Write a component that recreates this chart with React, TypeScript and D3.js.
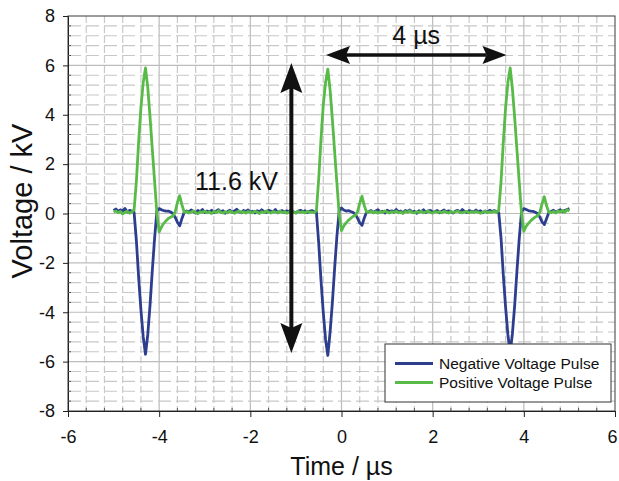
import React, { useEffect, useRef } from "react";
import * as d3 from "d3";

// oscilloscope record: first sample time and sample interval (µs)
const TIME_START = -5;
const TIME_STEP = 0.05;

// voltage samples in kV
const NEGATIVE_PULSE = [
  0.12, 0.18, 0.08, 0.15, 0.1, 0.2, 0.06, 0.13, 0.1,
  0.05, -1.1, -2.6, -3.9, -5.0, -5.7, -4.9, -3.7, -2.3, -1.0, 0.1, 0.2, 0.15, 0.12, 0.1, 0.1, 0.06, 0.0, -0.15, -0.35, -0.5, -0.2, 0.05,
  0.1, 0.05, 0.14, 0.08, 0.02, 0.12, 0.07, 0.16, 0.04, 0.1,
  0.06, 0.13, 0.03, 0.09, 0.15, 0.06, 0.11, 0.01, 0.08, 0.13,
  0.05, 0.1, 0.17, 0.07, 0.03, 0.12, 0.08, 0.14, 0.05, 0.09,
  0.02, 0.11, 0.06, 0.15, 0.08, 0.04, 0.13, 0.1, 0.07, 0.16,
  0.03, 0.09, 0.12, 0.05, 0.11, 0.08, 0.14, 0.06, 0.02, 0.1,
  0.13, 0.07, 0.11, 0.04, 0.09, 0.12, 0.06,
  0.06, -1.2, -2.7, -4.0, -5.1, -5.75, -4.8, -3.6, -2.2, -0.9, 0.12, 0.22, 0.14, 0.1, 0.12, 0.08, 0.05, -0.02, -0.18, -0.38, -0.48, -0.18, 0.06,
  0.07, 0.12, 0.04, 0.1, 0.15, 0.06, 0.09, 0.02, 0.13, 0.08,
  0.11, 0.05, 0.16, 0.07, 0.1, 0.03, 0.12, 0.08, 0.14, 0.06,
  0.09, 0.01, 0.11, 0.07, 0.15, 0.04, 0.1, 0.13, 0.05, 0.08,
  0.12, 0.03, 0.09, 0.14, 0.06, 0.11, 0.07, 0.02, 0.1, 0.13,
  0.05, 0.16, 0.08, 0.04, 0.12, 0.09, 0.06, 0.14, 0.07, 0.11,
  0.03, 0.1, 0.05, 0.13, 0.08, 0.12, 0.07,
  0.04, -1.0, -2.5, -3.8, -4.9, -5.65, -4.85, -3.7, -2.3, -1.0, 0.08, 0.2, 0.16, 0.12, 0.1, 0.09, 0.05, 0.0, -0.14, -0.34, -0.45, -0.2, 0.05,
  0.08, 0.13, 0.05, 0.1, 0.15, 0.07, 0.12, 0.16, 0.2,
];

const POSITIVE_PULSE = [
  0.06, 0.1, 0.03, 0.08, -0.02, 0.05, 0.09, 0.01, 0.06,
  0.15, 1.3, 2.9, 4.3, 5.3, 5.9, 5.1, 3.9, 2.6, 1.3, 0.0, -0.75, -0.55, -0.4, -0.3, -0.2, -0.15, -0.1, 0.05, 0.45, 0.72, 0.35, 0.05,
  0.08, 0.02, 0.06, 0.1, 0.04, -0.01, 0.07, 0.05, 0.09, 0.03,
  0.06, 0.0, 0.08, 0.04, 0.11, 0.05, 0.02, 0.07, 0.03, 0.09,
  0.05, 0.01, 0.06, 0.1, 0.04, 0.07, 0.02, 0.08, 0.05, 0.03,
  0.09, 0.06, 0.0, 0.07, 0.04, 0.1, 0.05, 0.02, 0.08, 0.06,
  0.03, 0.09, 0.04, 0.07, 0.01, 0.06, 0.1, 0.05, 0.03, 0.08,
  0.04, 0.07, 0.02, 0.09, 0.05, 0.06, 0.03,
  0.12, 1.4, 3.0, 4.4, 5.3, 5.85, 5.0, 3.8, 2.5, 1.2, -0.05, -0.7, -0.5, -0.38, -0.28, -0.2, -0.12, -0.08, 0.06, 0.42, 0.7, 0.32, 0.06,
  0.05, 0.09, 0.03, 0.07, 0.01, 0.08, 0.04, 0.1, 0.06, 0.02,
  0.07, 0.05, 0.09, 0.03, 0.06, 0.0, 0.08, 0.05, 0.11, 0.04,
  0.02, 0.07, 0.05, 0.09, 0.03, 0.06, 0.1, 0.04, 0.01, 0.08,
  0.05, 0.07, 0.03, 0.09, 0.06, 0.02, 0.08, 0.04, 0.07, 0.1,
  0.05, 0.03, 0.06, 0.09, 0.02, 0.07, 0.04, 0.08, 0.05, 0.01,
  0.06, 0.09, 0.03, 0.07, 0.05, 0.1, 0.04,
  0.14, 1.3, 2.9, 4.3, 5.3, 5.9, 5.05, 3.85, 2.55, 1.25, -0.02, -0.72, -0.52, -0.4, -0.3, -0.22, -0.14, -0.1, 0.04, 0.4, 0.68, 0.3, 0.05,
  0.04, 0.08, 0.02, 0.1, 0.06, 0.12, 0.05, 0.15, 0.1,
];

const SERIES = [
  { name: "Negative Voltage Pulse", values: NEGATIVE_PULSE, color: "#2d3e8e" },
  { name: "Positive Voltage Pulse", values: POSITIVE_PULSE, color: "#58bb48" },
];

const X_TICKS = [-6, -4, -2, 0, 2, 4, 6];
const Y_TICKS = [-8, -6, -4, -2, 0, 2, 4, 6, 8];

// annotations: peak-to-peak span and pulse period
const SPAN_TIME = -1.1;
const SPAN_FROM = 6.1;
const SPAN_TO = -5.65;
const SPAN_LABEL = "11.6 kV";
const PERIOD_LEVEL = 6.42;
const PERIOD_FROM = -0.34;
const PERIOD_TO = 3.62;
const PERIOD_LABEL = "4 µs";

const App = () => {
  const ref = useRef<SVGSVGElement>(null);

  useEffect(() => {
    const width = 619,
      height = 481;
    const plot = { left: 68, right: 615, top: 16, bottom: 411 };
    const font = "Liberation Sans, Arial, sans-serif";

    const svg = d3.select(ref.current);
    svg.selectAll("*").remove();
    svg.attr("width", width).attr("height", height);

    const x = d3.scaleLinear().domain([-6, 6]).range([plot.left, plot.right]);
    const y = d3.scaleLinear().domain([-8, 8]).range([plot.bottom, plot.top]);

    svg.append("rect").attr("width", width).attr("height", height).attr("fill", "#fff");

    // grid: dashed every 0.4, solid every 2
    const grid = svg.append("g");
    for (let i = 1; i < 30; i++) {
      const v = -6 + i * 0.4;
      const major = i % 5 === 0;
      grid
        .append("line")
        .attr("x1", x(v))
        .attr("x2", x(v))
        .attr("y1", plot.top)
        .attr("y2", plot.bottom)
        .attr("stroke", major ? "#bcbcbc" : "#c8c8c8")
        .attr("stroke-width", 1.2)
        .attr("stroke-dasharray", major ? null : "7,3");
    }
    for (let i = 1; i < 40; i++) {
      const v = -8 + i * 0.4;
      const major = i % 5 === 0;
      grid
        .append("line")
        .attr("x1", plot.left)
        .attr("x2", plot.right)
        .attr("y1", y(v))
        .attr("y2", y(v))
        .attr("stroke", major ? "#bcbcbc" : "#c8c8c8")
        .attr("stroke-width", 1.2)
        .attr("stroke-dasharray", major ? null : "13,5");
    }

    // frame
    svg
      .append("rect")
      .attr("x", plot.left)
      .attr("y", plot.top)
      .attr("width", plot.right - plot.left)
      .attr("height", plot.bottom - plot.top)
      .attr("fill", "none")
      .attr("stroke", "#3a3a3a")
      .attr("stroke-width", 1);

    // axes
    const xAxis = svg
      .append("g")
      .attr("transform", `translate(0,${plot.bottom})`)
      .call(d3.axisBottom(x).tickValues(X_TICKS).tickSize(6).tickFormat((d) => String(d)));
    xAxis.select(".domain").attr("stroke", "#222");
    xAxis.selectAll(".tick line").attr("stroke", "#222");
    xAxis
      .selectAll(".tick text")
      .attr("font-family", font)
      .attr("font-size", 18)
      .attr("fill", "#111")
      .attr("dy", "1.3em")
      .attr("x", (d) => (d === 6 ? -3 : 0));

    const yAxis = svg
      .append("g")
      .attr("transform", `translate(${plot.left},0)`)
      .call(d3.axisLeft(y).tickValues(Y_TICKS).tickSize(5).tickFormat((d) => String(d)));
    yAxis.select(".domain").attr("stroke", "#222");
    yAxis.selectAll(".tick line").attr("stroke", "#222");
    yAxis
      .selectAll(".tick text")
      .attr("font-family", font)
      .attr("font-size", 18)
      .attr("fill", "#111")
      .attr("x", -13);

    // minor ticks on the axes
    for (let i = 1; i < 40; i++) {
      if (i % 5 === 0) continue;
      const v = -8 + i * 0.4;
      svg
        .append("line")
        .attr("x1", plot.left)
        .attr("x2", plot.left + 3)
        .attr("y1", y(v))
        .attr("y2", y(v))
        .attr("stroke", "#555");
    }
    for (let i = 1; i < 30; i++) {
      if (i % 5 === 0) continue;
      const v = -6 + i * 0.4;
      svg
        .append("line")
        .attr("x1", x(v))
        .attr("x2", x(v))
        .attr("y1", plot.bottom)
        .attr("y2", plot.bottom - 3)
        .attr("stroke", "#555");
    }

    // traces
    const line = d3
      .line<number>()
      .x((_, i) => x(TIME_START + i * TIME_STEP))
      .y((d) => y(d));
    SERIES.forEach((s) => {
      svg
        .append("path")
        .attr("d", line(s.values))
        .attr("fill", "none")
        .attr("stroke", s.color)
        .attr("stroke-width", 2.8)
        .attr("stroke-linejoin", "round");
    });

    // double arrows
    const head = (tx, ty, dx, dy, L, W, n) => {
      const px = -dy,
        py = dx;
      return [
        [tx, ty],
        [tx - dx * L + px * W, ty - dy * L + py * W],
        [tx - dx * (L - n), ty - dy * (L - n)],
        [tx - dx * L - px * W, ty - dy * L - py * W],
      ];
    };
    const drawArrow = (x1, y1, x2, y2, L, W, n, sw) => {
      const len = Math.hypot(x2 - x1, y2 - y1);
      const dx = (x2 - x1) / len,
        dy = (y2 - y1) / len;
      const g = svg.append("g");
      g.append("line")
        .attr("x1", x1 + dx * (L - n))
        .attr("y1", y1 + dy * (L - n))
        .attr("x2", x2 - dx * (L - n))
        .attr("y2", y2 - dy * (L - n))
        .attr("stroke", "#111")
        .attr("stroke-width", sw);
      [head(x2, y2, dx, dy, L, W, n), head(x1, y1, -dx, -dy, L, W, n)].forEach((pts) => {
        g.append("path")
          .attr("d", "M" + pts.map((p) => p.join(",")).join("L") + "Z")
          .attr("fill", "#111");
      });
    };
    drawArrow(x(SPAN_TIME), y(SPAN_FROM), x(SPAN_TIME), y(SPAN_TO), 30, 11, 5, 4);
    drawArrow(x(PERIOD_FROM), y(PERIOD_LEVEL), x(PERIOD_TO), y(PERIOD_LEVEL), 24, 9, 4, 3.5);

    svg
      .append("text")
      .attr("x", 195)
      .attr("y", 190)
      .attr("font-family", font)
      .attr("font-size", 25)
      .attr("fill", "#111")
      .text(SPAN_LABEL);
    svg
      .append("text")
      .attr("x", (x(PERIOD_FROM) + x(PERIOD_TO)) / 2)
      .attr("y", 44)
      .attr("text-anchor", "middle")
      .attr("font-family", font)
      .attr("font-size", 25)
      .attr("fill", "#111")
      .text(PERIOD_LABEL);

    // axis titles
    svg
      .append("text")
      .attr("x", x(0))
      .attr("y", 475)
      .attr("text-anchor", "middle")
      .attr("font-family", font)
      .attr("font-size", 25)
      .attr("fill", "#111")
      .text("Time / µs");
    svg
      .append("text")
      .attr("transform", `translate(32,201) rotate(-90)`)
      .attr("text-anchor", "middle")
      .attr("font-family", font)
      .attr("font-size", 29)
      .attr("fill", "#111")
      .text("Voltage / kV");

    // legend
    const legend = svg.append("g").attr("transform", "translate(385,344)");
    legend
      .append("rect")
      .attr("width", 226)
      .attr("height", 58)
      .attr("fill", "#fff")
      .attr("stroke", "#333")
      .attr("stroke-width", 1);
    SERIES.forEach((s, i) => {
      legend
        .append("line")
        .attr("x1", 10)
        .attr("x2", 48)
        .attr("y1", 19.5 + i * 19)
        .attr("y2", 19.5 + i * 19)
        .attr("stroke", s.color)
        .attr("stroke-width", 3);
      legend
        .append("text")
        .attr("x", 54)
        .attr("y", 24.5 + i * 19)
        .attr("font-family", font)
        .attr("font-size", 15.5)
        .attr("fill", "#111")
        .text(s.name);
    });
  }, []);

  return <svg ref={ref} style={{ position: "absolute", left: 0, top: 0 }}></svg>;
};

export default App;
